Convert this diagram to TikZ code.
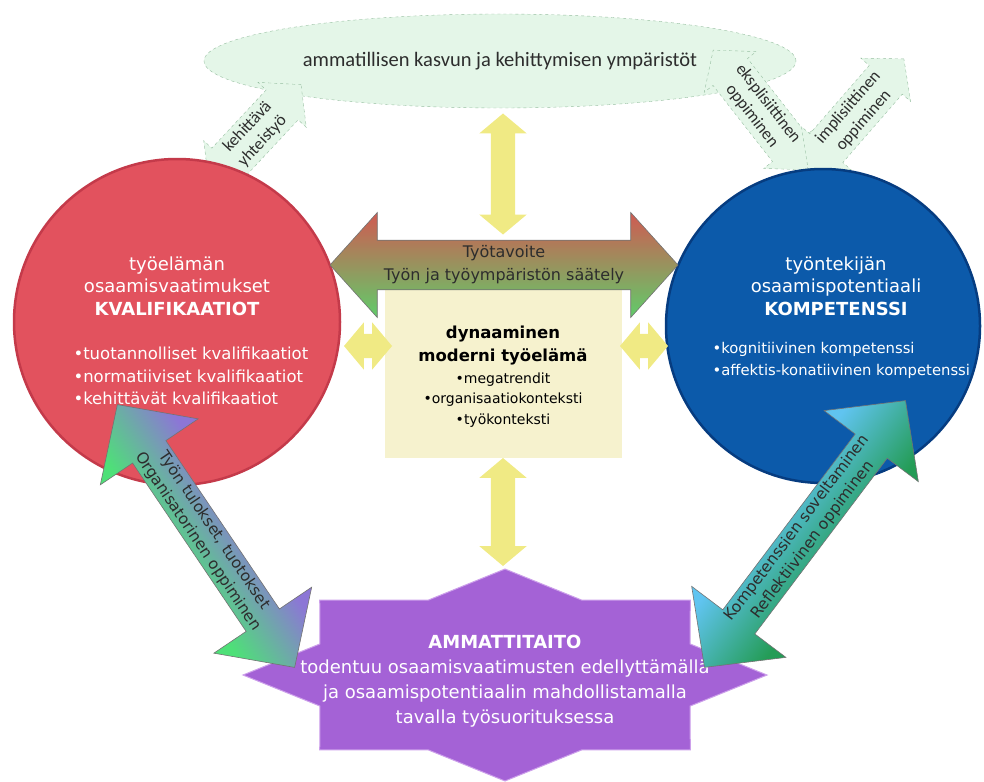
\documentclass[tikz,border=0pt]{standalone}
\usepackage{fontspec}
\usepackage{xcolor}
\usepackage{tikz}
\usetikzlibrary{shapes.arrows,shapes.geometric}
\setmainfont{DejaVu Sans}
\newfontfamily\calfont{Carlito}
\definecolor{kvalred}{RGB}{226, 82, 94}
\definecolor{kvaldark}{RGB}{196, 58, 74}
\definecolor{kompblue}{RGB}{12, 90, 170}
\definecolor{kompdark}{RGB}{6, 60, 128}
\definecolor{envgreen}{RGB}{228, 246, 232}
\definecolor{envline}{RGB}{150, 190, 160}
\definecolor{boxyellow}{RGB}{246, 242, 206}
\definecolor{arrowyellow}{RGB}{240, 234, 132}
\definecolor{ammpurple}{RGB}{164, 98, 214}
\definecolor{ammlight}{RGB}{205, 160, 235}
\definecolor{goalred}{RGB}{208, 90, 82}
\definecolor{goalgreen}{RGB}{96, 204, 106}
\definecolor{resgreen}{RGB}{78, 224, 120}
\definecolor{respurple}{RGB}{140, 118, 214}
\definecolor{refblue}{RGB}{96, 196, 240}
\definecolor{refgreen}{RGB}{36, 156, 86}
\definecolor{textgrey}{RGB}{45, 45, 45}
\pgfdeclareverticalshading{resshade}{100bp}{color(0bp)=(resgreen); color(41bp)=(resgreen); color(59bp)=(respurple); color(100bp)=(respurple)}
\pgfdeclareverticalshading{refshade}{100bp}{color(0bp)=(refgreen); color(41bp)=(refgreen); color(59bp)=(refblue); color(100bp)=(refblue)}

\begin{document}
\begin{tikzpicture}[x=1pt, y=-1pt,
    envarrow/.style={double arrow, draw=envline, dashed, fill=envgreen,
        double arrow head extend=10, double arrow tip angle=100, inner xsep=1, inner ysep=2,
        align=center, text=textgrey, font=\calfont\fontsize{17}{20.5}\selectfont},
    yelarrow/.style={double arrow, fill=arrowyellow, inner xsep=0, inner ysep=12,
        double arrow head extend=11.5, double arrow tip angle=100},
    flowarrow/.style={double arrow, draw=black!55, line width=0.6, inner sep=1,
        align=center, text=textgrey, font=\fontsize{15.5}{19.5}\selectfont},
    circtxt/.style={text=white, font=\fontsize{18}{22.5}\selectfont}]
    \useasboundingbox (0,0) rectangle (984,781);

    % Environments for growth
    \node[ellipse, draw=envline, dashed, fill=envgreen, minimum width=592, minimum height=94,
        text=textgrey, font=\calfont\fontsize{20.5}{22}\selectfont] (env) at (500,61)
        {ammatillisen kasvun ja kehittymisen ympäristöt};
    \node[envarrow, rotate=47, minimum height=135, minimum width=66] (yhteis) at (255,134) {kehittävä\\yhteistyö};
    \node[envarrow, rotate=-52, minimum height=152, minimum width=66] (ekspl) at (760,110) {eksplisiittinen\\oppiminen};
    \node[envarrow, rotate=49, minimum height=146, minimum width=66] (impl) at (856,114) {implisiittinen\\oppiminen};

    % Qualifications and competence
    \node[circle, minimum size=326, fill=kvalred, draw=kvaldark, line width=2.5] (kval) at (177,322) {};
    \node[circle, minimum size=314, fill=kompblue, draw=kompdark, line width=2.5] (komp) at (823,326) {};
    \node[circtxt, align=center] (kvaltitle) at (177,286) {työelämän\\osaamisvaatimukset\\\textbf{KVALIFIKAATIOT}};
    \node[circtxt, align=left, anchor=west, font=\fontsize{16.5}{22.5}\selectfont] (kvallist) at (70,376)
        {•tuotannolliset kvalifikaatiot\\•normatiiviset kvalifikaatiot\\•kehittävät kvalifikaatiot};
    \node[circtxt, align=center] (komptitle) at (836,286) {työntekijän\\osaamispotentiaali\\\textbf{KOMPETENSSI}};
    \node[circtxt, align=left, anchor=west, font=\fontsize{14.8}{22}\selectfont] (komplist) at (709,360)
        {•kognitiivinen kompetenssi\\•affektis-konatiivinen kompetenssi};

    % Modern working life
    \node[rectangle, fill=boxyellow, minimum width=237, minimum height=176] (tyoelama) at (503,370) {};
    \node[align=center, font=\bfseries\fontsize{16.5}{23}\selectfont] (dynbold) at (503,346) {dynaaminen\\moderni työelämä};
    \node[align=center, font=\fontsize{14}{20.5}\selectfont] (dynlist) at (503,400) {•megatrendit\\•organisaatiokonteksti\\•työkonteksti};

    % Yellow links
    \node[yelarrow, rotate=90, minimum height=121, minimum width=47] (ytop) at (503,174) {};
    \node[yelarrow, rotate=90, minimum height=108, minimum width=47] (ybot) at (503,512) {};
    \node[yelarrow, minimum height=48, minimum width=47] (yleft) at (368,346) {};
    \node[yelarrow, minimum height=48, minimum width=47] (yright) at (644,346) {};

    % Vocational skill
    \begin{scope}[shift={(505,675)}]
        \filldraw[fill=ammpurple, draw=ammlight, line width=1] (0:262 and 106)
            \foreach \k [evaluate=\k as \r using {mod(\k,2)==1 ? 0.765 : 1}] in {1,...,15} {
                -- ({\k*22.5}:{262*\r} and {106*\r})
            } -- cycle;
    \end{scope}
    \node[align=center, text=white, font=\fontsize{18}{25}\selectfont] (ammatti) at (505,681)
        {\textbf{AMMATTITAITO}\\todentuu osaamisvaatimusten edellyttämällä\\ja osaamispotentiaalin mahdollistamalla\\tavalla työsuorituksessa};

    % Goal arrow
    \node[flowarrow, top color=goalred, bottom color=goalgreen, font=\fontsize{16}{23}\selectfont,
        minimum height=348, minimum width=105, double arrow head extend=23, double arrow tip angle=96]
        (tavoite) at (504,265) {Työtavoite\\Työn ja työympäristön säätely};

    % Results and reflection
    \node[flowarrow, rotate=-56, shade, shading=resshade, shading angle=-56,
        minimum height=317, minimum width=118, double arrow head extend=36, double arrow tip angle=92]
        (tulokset) at (206,536) {Työn tulokset, tuotokset\\Organisatorinen oppiminen};
    \node[flowarrow, rotate=53, shade, shading=refshade, shading angle=53,
        minimum height=334, minimum width=118, double arrow head extend=36, double arrow tip angle=92]
        (soveltaminen) at (805,534) {Kompetenssien soveltaminen\\Reflektiivinen oppiminen};
\end{tikzpicture}
\end{document}
